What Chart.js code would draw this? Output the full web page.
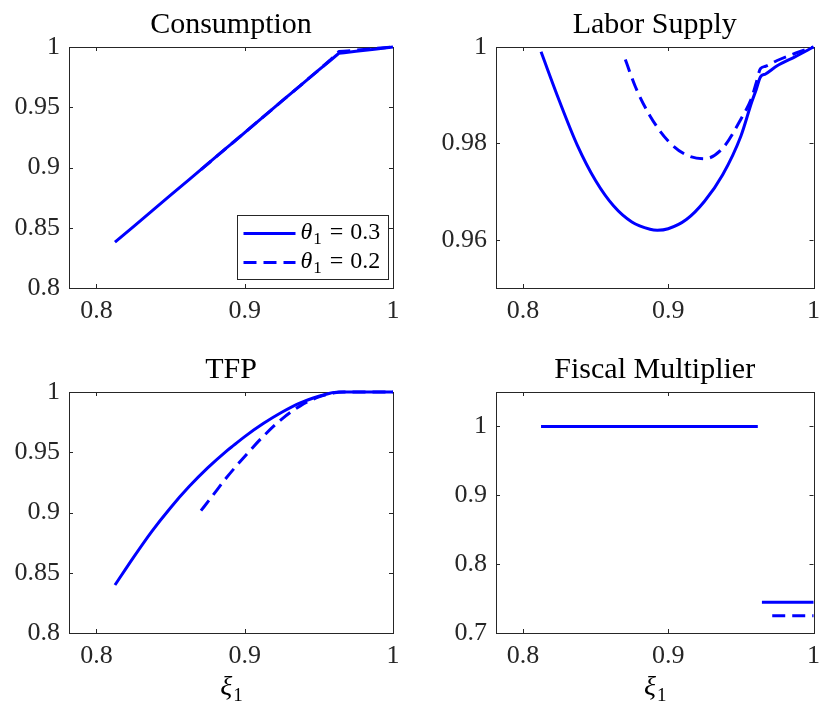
<!DOCTYPE html>
<html>
<head>
<meta charset="utf-8">
<script src="https://cdn.jsdelivr.net/npm/chart.js@4.4.1/dist/chart.umd.min.js"></script>
<style>
  html, body { margin: 0; padding: 0; background: #ffffff; }
  #wrap { position: relative; width: 828px; height: 712px; background: #ffffff; }
  canvas { position: absolute; }
</style>
</head>
<body>
<div id="wrap">
  <canvas id="c1" width="414" height="340" style="left:0px;top:0px;"></canvas>
  <canvas id="c2" width="414" height="340" style="left:414px;top:0px;"></canvas>
  <canvas id="c3" width="414" height="372" style="left:0px;top:340px;"></canvas>
  <canvas id="c4" width="414" height="372" style="left:414px;top:340px;"></canvas>
</div>
<script>
// ---------------- data ----------------
const panelTitles = ['Consumption', 'Labor Supply', 'TFP', 'Fiscal Multiplier'];
const seriesLabels = ['0.3', '0.2'];          // theta_1 values
const xTickValues = [0.8, 0.9, 1];
const xTickLabels = ['0.8', '0.9', '1'];

// xi grid, theta_1 = 0.3 (solid)
const xiSolid = [0.8125, 0.825, 0.8375, 0.85, 0.8625, 0.875, 0.8875, 0.8925, 0.9, 0.9125, 0.925, 0.9375, 0.95, 0.9575, 0.9605, 0.9635, 0.967, 0.975, 0.9875, 1.0];
// xi grid, theta_1 = 0.2 (dashed)
const xiDashed = [0.8705, 0.8775, 0.8875, 0.9, 0.9125, 0.925, 0.9375, 0.95, 0.9575, 0.9605, 0.9635, 0.967, 0.975, 0.9875, 1.0];

const consumptionSolid = [0.838, 0.851, 0.864, 0.877, 0.890, 0.903, 0.916, 0.921, 0.929, 0.942, 0.955, 0.968, 0.981, 0.9886, 0.9917, 0.9948, 0.9953, 0.9964, 0.9982, 1.0];
const consumptionDashed = [0.8982, 0.9055, 0.916, 0.929, 0.942, 0.955, 0.968, 0.981, 0.989, 0.9926, 0.9962, 0.9965, 0.9974, 0.9987, 1.0];

const laborSolid = [0.9990, 0.9889, 0.9796, 0.9723, 0.9670, 0.9637, 0.9622, 0.9620, 0.9623, 0.9642, 0.9680, 0.9735, 0.9815, 0.9886, 0.9911, 0.9938, 0.9944, 0.9961, 0.9980, 1.0];
const laborDashed = [0.9974, 0.9917, 0.9857, 0.9805, 0.9776, 0.9768, 0.9790, 0.9850, 0.9895, 0.9925, 0.9955, 0.9960, 0.9972, 0.9987, 1.0];

const tfpSolid = [0.8398, 0.8628, 0.8846, 0.9040, 0.9215, 0.9370, 0.9508, 0.9557, 0.9630, 0.9738, 0.9832, 0.9910, 0.9965, 0.9990, 0.9997, 1.0, 1.0, 1.0, 1.0, 1.0];
const tfpDashed = [0.9015, 0.9126, 0.9286, 0.9465, 0.9632, 0.9775, 0.9885, 0.9960, 0.9985, 0.9993, 0.9998, 1.0, 1.0, 1.0, 1.0];

const xiFiscalSolid = [0.8125, 0.9615, 0.9630, 0.9645, 1.0];
const fiscalSolid = [1.0, 1.0, null, 0.7445, 0.7445];
const xiFiscalDashed = [0.8705, 0.9615, 0.9660, 0.9716, 1.0];
const fiscalDashed = [1.0, 1.0, null, 0.725, 0.725];

const yTicksConsumption = [0.8, 0.85, 0.9, 0.95, 1];
const yLabelsConsumption = ['0.8', '0.85', '0.9', '0.95', '1'];
const yTicksLabor = [0.96, 0.98, 1];
const yLabelsLabor = ['0.96', '0.98', '1'];
const yTicksTFP = [0.8, 0.85, 0.9, 0.95, 1];
const yLabelsTFP = ['0.8', '0.85', '0.9', '0.95', '1'];
const yTicksFiscal = [0.7, 0.8, 0.9, 1];
const yLabelsFiscal = ['0.7', '0.8', '0.9', '1'];

// ---------------- styling ----------------
const BLUE = '#0000ff';
const AXIS = '#262626';
const SERIF = '"Liberation Serif", "DejaVu Serif", serif';
const DASH = [13, 7];

function pts(xs, ys) { return xs.map((x, i) => ({ x: x, y: ys[i] })); }

const panelDecor = {
  id: 'panelDecor',
  beforeDatasetsDraw(chart, args, opts) {
    const ctx = chart.ctx, a = chart.chartArea;
    const xs = chart.scales.x, ys = chart.scales.y;
    ctx.save();
    ctx.strokeStyle = AXIS;
    ctx.lineWidth = 1;
    const tl = 4;
    ctx.beginPath();
    xs.ticks.forEach(t => {
      const p = Math.round(xs.getPixelForValue(t.value)) + 0.5;
      ctx.moveTo(p, a.bottom); ctx.lineTo(p, a.bottom - tl);
      ctx.moveTo(p, a.top); ctx.lineTo(p, a.top + tl);
    });
    ys.ticks.forEach(t => {
      const p = Math.round(ys.getPixelForValue(t.value)) + 0.5;
      ctx.moveTo(a.left, p); ctx.lineTo(a.left + tl, p);
      ctx.moveTo(a.right, p); ctx.lineTo(a.right - tl, p);
    });
    ctx.stroke();
    ctx.strokeRect(Math.round(a.left) + 0.5, Math.round(a.top) + 0.5,
                   Math.round(a.right - a.left), Math.round(a.bottom - a.top));
    ctx.restore();
  },
  afterDraw(chart, args, opts) {
    const ctx = chart.ctx, a = chart.chartArea;
    ctx.save();
    ctx.fillStyle = '#000000';
    // title
    ctx.font = '30px ' + SERIF;
    ctx.textAlign = 'center';
    ctx.textBaseline = 'alphabetic';
    ctx.fillText(opts.title, (a.left + a.right) / 2, a.top - 14);
    // x label  xi_1
    if (opts.xlabel) {
      const cx = (a.left + a.right) / 2;
      const by = a.bottom + 62;
      ctx.textAlign = 'left';
      ctx.font = 'italic 28px ' + SERIF;
      const w1 = ctx.measureText('ξ').width;
      ctx.font = '19px ' + SERIF;
      const w2 = ctx.measureText('1').width;
      const x0 = cx - (w1 + w2) / 2;
      ctx.font = 'italic 28px ' + SERIF;
      ctx.fillText('ξ', x0, by);
      ctx.font = '19px ' + SERIF;
      ctx.fillText('1', x0 + w1 + 1, by + 6);
    }
    // legend
    if (opts.legend) {
      const lw = 151, lh = 64;
      const lx = Math.round(a.right - 5 - lw) + 0.5;
      const ly = Math.round(a.bottom - 9 - lh) + 0.5;
      ctx.fillStyle = '#ffffff';
      ctx.fillRect(lx, ly, lw, lh);
      ctx.strokeStyle = AXIS;
      ctx.lineWidth = 1;
      ctx.strokeRect(lx, ly, lw, lh);
      chart.data.datasets.forEach((ds, i) => {
        const rowY = ly + 18 + i * 29;
        ctx.save();
        ctx.strokeStyle = ds.borderColor;
        ctx.lineWidth = ds.borderWidth;
        ctx.setLineDash(ds.borderDash || []);
        ctx.beginPath();
        ctx.moveTo(lx + 6, rowY);
        ctx.lineTo(lx + 58, rowY);
        ctx.stroke();
        ctx.restore();
        const base = ly + 23 + i * 29;
        let tx = lx + 63;
        ctx.fillStyle = '#000000';
        ctx.textAlign = 'left';
        ctx.font = 'italic 24px ' + SERIF;
        ctx.fillText('θ', tx, base);
        tx += ctx.measureText('θ').width + 1;
        ctx.font = '17px ' + SERIF;
        ctx.fillText('1', tx, base + 5);
        tx += ctx.measureText('1').width + 8;
        ctx.font = '24px ' + SERIF;
        ctx.fillText('=', tx, base);
        tx += ctx.measureText('=').width + 7;
        ctx.fillText(ds.label, tx, base);
      });
    }
    ctx.restore();
  }
};

function makeChart(id, cfg) {
  const ds = [
    { label: seriesLabels[0], data: pts(cfg.xs1, cfg.y1), borderColor: BLUE, borderWidth: 3,
      borderDash: [], pointRadius: 0, fill: false, clip: false, spanGaps: false,
      borderJoinStyle: 'round', tension: 0, cubicInterpolationMode: cfg.smooth ? 'monotone' : 'default' },
    { label: seriesLabels[1], data: pts(cfg.xs2, cfg.y2), borderColor: BLUE, borderWidth: 3,
      borderDash: DASH, pointRadius: 0, fill: false, clip: false, spanGaps: false,
      borderJoinStyle: 'round', tension: 0, cubicInterpolationMode: cfg.smooth ? 'monotone' : 'default' }
  ];
  return new Chart(document.getElementById(id), {
    type: 'line',
    data: { datasets: ds },
    plugins: [panelDecor],
    options: {
      responsive: false,
      animation: false,
      devicePixelRatio: 1,
      events: [],
      layout: { padding: { top: cfg.top, right: cfg.right, bottom: 0, left: 0 } },
      plugins: {
        legend: { display: false },
        tooltip: { enabled: false },
        panelDecor: { title: cfg.title, xlabel: cfg.xlabel, legend: cfg.legend }
      },
      scales: {
        x: {
          type: 'linear', min: 0.7815, max: 1,
          grid: { display: false, drawTicks: false },
          border: { display: false },
          afterBuildTicks: s => { s.ticks = xTickValues.map(v => ({ value: v })); },
          afterFit: s => { s.height = cfg.xh; },
          ticks: {
            autoSkip: false, maxRotation: 0, padding: 8, color: AXIS,
            font: { family: SERIF, size: 26 },
            callback: (v, i) => xTickLabels[i]
          }
        },
        y: {
          type: 'linear', min: cfg.ymin, max: cfg.ymax,
          grid: { display: false, drawTicks: false },
          border: { display: false },
          afterBuildTicks: s => { s.ticks = cfg.yt.map(v => ({ value: v })); },
          afterFit: s => { s.width = cfg.yw; },
          ticks: {
            autoSkip: false, padding: 9, color: AXIS,
            font: { family: SERIF, size: 26 },
            callback: (v, i) => cfg.yl[i]
          }
        }
      }
    }
  });
}

makeChart('c1', { title: panelTitles[0], xs1: xiSolid, y1: consumptionSolid, xs2: xiDashed, y2: consumptionDashed,
  ymin: 0.8, ymax: 1, yt: yTicksConsumption, yl: yLabelsConsumption,
  top: 47, right: 21, xh: 52, yw: 69, legend: true, xlabel: false, smooth: false });
makeChart('c2', { title: panelTitles[1], xs1: xiSolid, y1: laborSolid, xs2: xiDashed, y2: laborDashed,
  ymin: 0.95, ymax: 1, yt: yTicksLabor, yl: yLabelsLabor,
  top: 47, right: 7, xh: 52, yw: 82, legend: false, xlabel: false, smooth: true });
makeChart('c3', { title: panelTitles[2], xs1: xiSolid, y1: tfpSolid, xs2: xiDashed, y2: tfpDashed,
  ymin: 0.8, ymax: 1, yt: yTicksTFP, yl: yLabelsTFP,
  top: 52, right: 21, xh: 79, yw: 69, legend: false, xlabel: true, smooth: true });
makeChart('c4', { title: panelTitles[3], xs1: xiFiscalSolid, y1: fiscalSolid, xs2: xiFiscalDashed, y2: fiscalDashed,
  ymin: 0.7, ymax: 1.05, yt: yTicksFiscal, yl: yLabelsFiscal,
  top: 52, right: 7, xh: 79, yw: 82, legend: false, xlabel: true, smooth: false });
</script>
</body>
</html>
